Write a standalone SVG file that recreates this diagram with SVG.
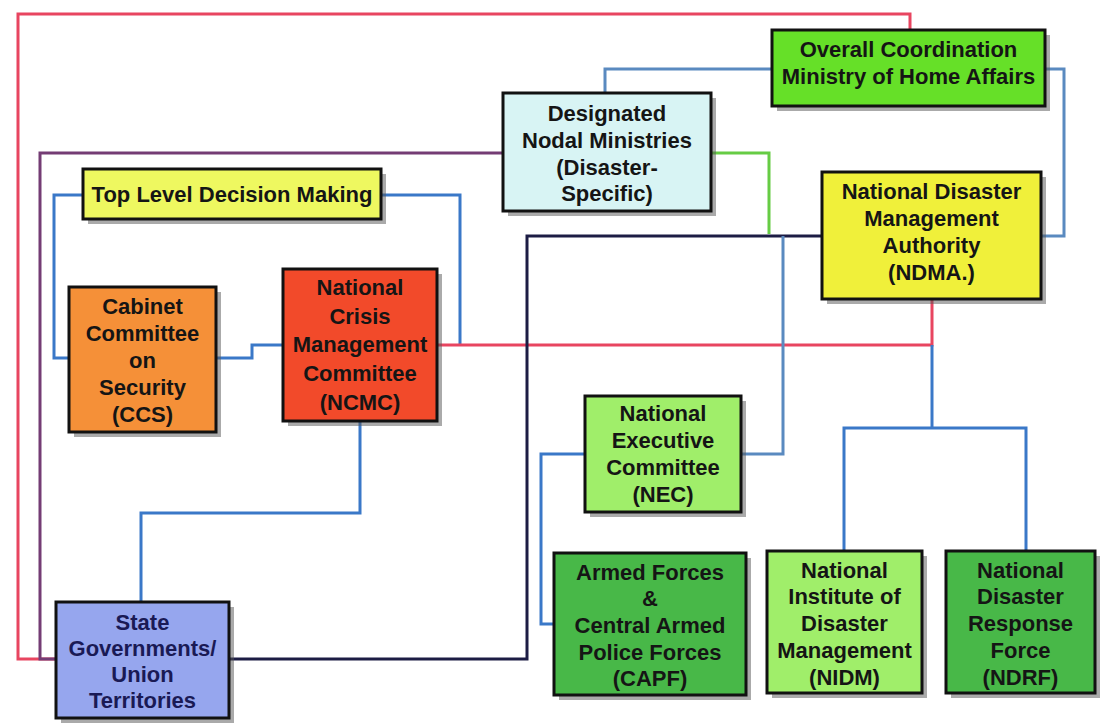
<svg xmlns="http://www.w3.org/2000/svg" width="1103" height="723" viewBox="0 0 1103 723">
<style>
.box{stroke:#111;stroke-width:3}
.sh{fill:#555;opacity:0.5}
.t{font-family:"Liberation Sans",Arial,sans-serif;font-weight:bold;font-size:22px;fill:#151515;text-anchor:middle}
.c{fill:none;stroke-width:3;stroke-linejoin:miter}
.red{stroke:#e84560}
.pur{stroke:#743c74}
.blu{stroke:#3a78c8}
.bg{stroke:#5a8ac0}
.nav{stroke:#1c1c44}
.grn{stroke:#66cc44}
</style>
<rect width="1103" height="723" fill="#fff"/>
<g id="connectors">
<polyline class="c red" points="56,659 18,659 18,14 910,14 910,30"/>
<polyline class="c pur" points="56,659 40,659 40,153 503,153"/>
<polyline class="c blu" points="83,195 54,195 54,358 69,358"/>
<polyline class="c blu" points="381,195 460,195 460,345"/>
<polyline class="c blu" points="216,358 252,358 252,345 283,345"/>
<polyline class="c red" points="437,345 932,345 932,299"/>
<polyline class="c blu" points="932,345 932,428"/>
<polyline class="c blu" points="844,551 844,428 1026,428 1026,551"/>
<polyline class="c nav" points="229,659 527,659 527,236 822,236"/>
<polyline class="c bg" points="772,69 605,69 605,93"/>
<polyline class="c bg" points="1045,69 1064,69 1064,236 1041,236"/>
<polyline class="c grn" points="711,153 769,153 769,234"/>
<polyline class="c bg" points="783,236 783,454 741,454"/>
<polyline class="c blu" points="585,454 541,454 541,624 554,624"/>
<polyline class="c blu" points="360,421 360,513 141,513 141,602"/>
</g>
<g id="mha">
<rect class="sh" x="777" y="35" width="273" height="76"/>
<rect class="box" x="772" y="30" width="273" height="76" fill="#66e028"/>
<text class="t" x="908.5" y="57">Overall Coordination</text>
<text class="t" x="908.5" y="84">Ministry of Home Affairs</text>
</g>
<g id="nodal">
<rect class="sh" x="508" y="98" width="208" height="118"/>
<rect class="box" x="503" y="93" width="208" height="118" fill="#d8f4f4"/>
<text class="t" x="607" y="121">Designated</text>
<text class="t" x="607" y="148">Nodal Ministries</text>
<text class="t" x="607" y="175">(Disaster-</text>
<text class="t" x="607" y="201">Specific)</text>
</g>
<g id="toplevel">
<rect class="sh" x="88" y="174" width="298" height="50"/>
<rect class="box" x="83" y="169" width="298" height="50" fill="#eef860"/>
<text class="t" x="232" y="202">Top Level Decision Making</text>
</g>
<g id="ccs">
<rect class="sh" x="74" y="292" width="147" height="145"/>
<rect class="box" x="69" y="287" width="147" height="145" fill="#f59038"/>
<text class="t" x="142.5" y="314">Cabinet</text>
<text class="t" x="142.5" y="341">Committee</text>
<text class="t" x="142.5" y="368">on</text>
<text class="t" x="142.5" y="395">Security</text>
<text class="t" x="142.5" y="422">(CCS)</text>
</g>
<g id="ncmc">
<rect class="sh" x="288" y="274" width="154" height="152"/>
<rect class="box" x="283" y="269" width="154" height="152" fill="#f24a2a"/>
<text class="t" x="360" y="295">National</text>
<text class="t" x="360" y="324">Crisis</text>
<text class="t" x="360" y="352">Management</text>
<text class="t" x="360" y="381">Committee</text>
<text class="t" x="360" y="410">(NCMC)</text>
</g>
<g id="ndma">
<rect class="sh" x="827" y="177" width="219" height="127"/>
<rect class="box" x="822" y="172" width="219" height="127" fill="#f0f03a"/>
<text class="t" x="931.5" y="199">National Disaster</text>
<text class="t" x="931.5" y="226">Management</text>
<text class="t" x="931.5" y="253">Authority</text>
<text class="t" x="931.5" y="280">(NDMA.)</text>
</g>
<g id="nec">
<rect class="sh" x="590" y="401" width="156" height="116"/>
<rect class="box" x="585" y="396" width="156" height="116" fill="#a0ee6a"/>
<text class="t" x="663" y="421">National</text>
<text class="t" x="663" y="448">Executive</text>
<text class="t" x="663" y="475">Committee</text>
<text class="t" x="663" y="502">(NEC)</text>
</g>
<g id="capf">
<rect class="sh" x="559" y="558" width="192" height="142"/>
<rect class="box" x="554" y="553" width="192" height="142" fill="#48b848"/>
<text class="t" x="650" y="580">Armed Forces</text>
<text class="t" x="650" y="606">&amp;</text>
<text class="t" x="650" y="633">Central Armed</text>
<text class="t" x="650" y="660">Police Forces</text>
<text class="t" x="650" y="686">(CAPF)</text>
</g>
<g id="nidm">
<rect class="sh" x="772" y="556" width="155" height="142"/>
<rect class="box" x="767" y="551" width="155" height="142" fill="#a0ee6a"/>
<text class="t" x="844.5" y="578">National</text>
<text class="t" x="844.5" y="604">Institute of</text>
<text class="t" x="844.5" y="631">Disaster</text>
<text class="t" x="844.5" y="658">Management</text>
<text class="t" x="844.5" y="685">(NIDM)</text>
</g>
<g id="ndrf">
<rect class="sh" x="951" y="556" width="149" height="142"/>
<rect class="box" x="946" y="551" width="149" height="142" fill="#48b848"/>
<text class="t" x="1020.5" y="578">National</text>
<text class="t" x="1020.5" y="604">Disaster</text>
<text class="t" x="1020.5" y="631">Response</text>
<text class="t" x="1020.5" y="658">Force</text>
<text class="t" x="1020.5" y="685">(NDRF)</text>
</g>
<g id="state">
<rect class="sh" x="61" y="607" width="173" height="116"/>
<rect class="box" x="56" y="602" width="173" height="116" fill="#96a6ee"/>
<text class="t" x="142.5" y="630" style="fill:#1a1a55">State</text>
<text class="t" x="142.5" y="656" style="fill:#1a1a55">Governments/</text>
<text class="t" x="142.5" y="682" style="fill:#1a1a55">Union</text>
<text class="t" x="142.5" y="708" style="fill:#1a1a55">Territories</text>
</g>
</svg>
